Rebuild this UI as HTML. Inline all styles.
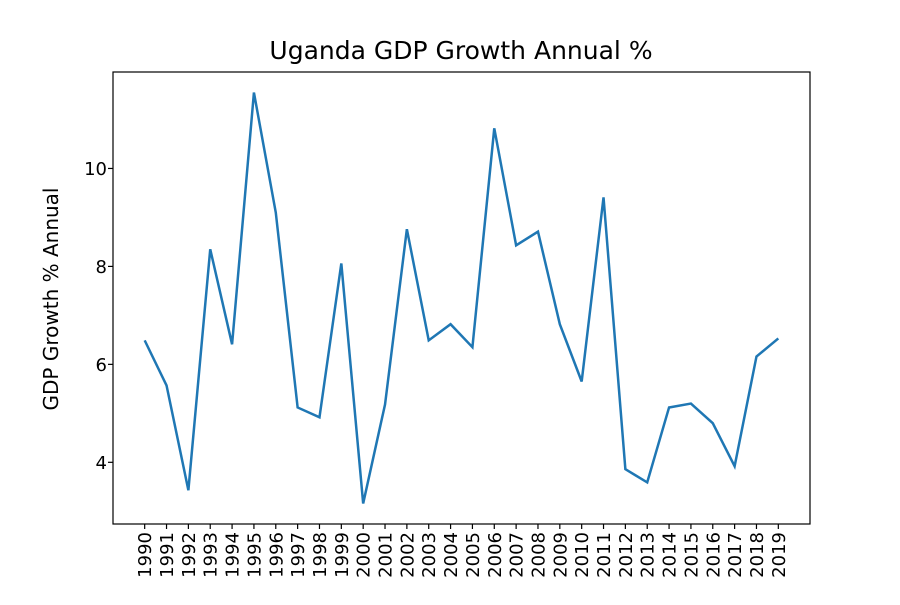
<!DOCTYPE html>
<html><head><meta charset="utf-8">
<style>
body{margin:0;background:#fff;}
svg text{font-family:"DejaVu Sans","Liberation Sans",sans-serif;fill:#000;}
</style></head>
<body>
<svg id="chart" width="900" height="600" xmlns="http://www.w3.org/2000/svg">
<rect width="900" height="600" fill="#fff"/>
<text x="461" y="59" font-size="25" text-anchor="middle">Uganda GDP Growth Annual %</text>
<text transform="translate(58,299) rotate(-90)" font-size="20" text-anchor="middle">GDP Growth % Annual</text>
<g id="ticks"></g>
<polyline id="line" fill="none" stroke="#1f77b4" stroke-width="2.5"/>
<rect x="113" y="72" width="697" height="452" fill="none" stroke="#000" stroke-width="1.2"/>
</svg>
<script>
const years = [1990,1991,1992,1993,1994,1995,1996,1997,1998,1999,2000,2001,2002,2003,2004,2005,2006,2007,2008,2009,2010,2011,2012,2013,2014,2015,2016,2017,2018,2019];
const growth = [6.49,5.57,3.43,8.35,6.41,11.55,9.10,5.12,4.92,8.06,3.16,5.18,8.76,6.49,6.82,6.35,10.82,8.43,8.71,6.82,5.65,9.41,3.86,3.59,5.12,5.20,4.80,3.92,6.16,6.53];
const yTicks = [4,6,8,10];

const L=113,R=810,T=72,B=524;
const n=years.length;
const xMin=-0.05*(n-1), xMax=(n-1)*1.05;
const dMin=Math.min(...growth), dMax=Math.max(...growth), pad=(dMax-dMin)*0.05;
const yMin=dMin-pad, yMax=dMax+pad;
const xs=i=>L+(i-xMin)/(xMax-xMin)*(R-L);
const ys=v=>B-(v-yMin)/(yMax-yMin)*(B-T);
const NS="http://www.w3.org/2000/svg";
const g=document.getElementById('ticks');
function mk(tag,attrs,text){const e=document.createElementNS(NS,tag);for(const k in attrs)e.setAttribute(k,attrs[k]);if(text!==undefined)e.textContent=text;g.appendChild(e);return e;}
yTicks.forEach(v=>{
  const y=ys(v);
  const t=mk('line',{x1:L-5,x2:L,y1:y,y2:y,stroke:'#000','stroke-width':'1.2'});
  
  
  const l=mk('text',{x:L-6,y:y+6.5,'font-size':'18','text-anchor':'end'},String(v));
  
  
});
years.forEach((yr,i)=>{
  const x=xs(i);
  const t=mk('line',{x1:x,x2:x,y1:B,y2:B+5,stroke:'#000','stroke-width':'1.2'});
  
  
  const l=mk('text',{transform:`translate(${x+6.5},${B+8}) rotate(-90)`,'font-size':'18','text-anchor':'end'},String(yr));
  
  
});
document.getElementById('line').setAttribute('points',growth.map((v,i)=>xs(i)+','+ys(v)).join(' '));
</script>
</body></html>
